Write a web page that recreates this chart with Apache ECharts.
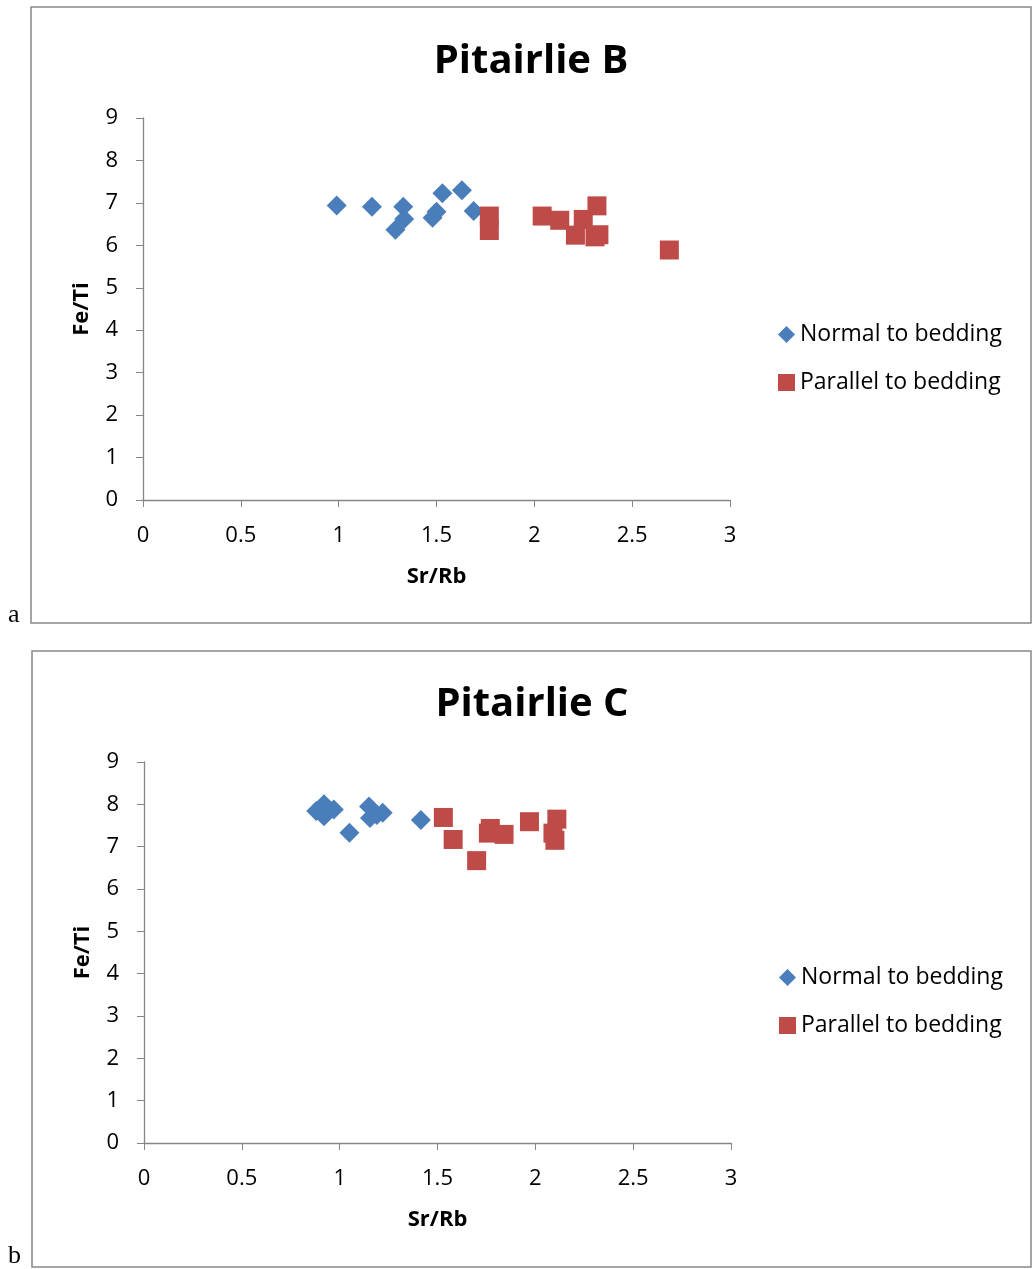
<!DOCTYPE html>
<html>
<head>
<meta charset="utf-8">
<script src="https://cdn.jsdelivr.net/npm/echarts@6/dist/echarts.min.js"></script>
<style>
  html, body { margin: 0; padding: 0; background: #fff; }
  #chart { width: 1033px; height: 1269px; }
</style>
</head>
<body>
<div id="chart"></div>
<script>
// panel a - Pitairlie B  [Sr/Rb, Fe/Ti]
const normalB = [
  [0.99, 6.94], [1.17, 6.91], [1.33, 6.91], [1.335, 6.62], [1.29, 6.37],
  [1.50, 6.79], [1.48, 6.65], [1.53, 7.23], [1.63, 7.30], [1.69, 6.81]
]
const parallelB = [
  [1.77, 6.69], [1.77, 6.35], [2.04, 6.69], [2.13, 6.59], [2.25, 6.61],
  [2.32, 6.93], [2.21, 6.24], [2.31, 6.20], [2.33, 6.25], [2.69, 5.89]
]
// panel b - Pitairlie C
const normalC = [
  [0.88, 7.84], [0.92, 8.00], [0.97, 7.88], [0.92, 7.72], [1.05, 7.33],
  [1.15, 7.95], [1.155, 7.68], [1.19, 7.75], [1.22, 7.80], [1.415, 7.63]
]
const parallelC = [
  [1.53, 7.69], [1.58, 7.17], [1.70, 6.67], [1.77, 7.43], [1.76, 7.32],
  [1.84, 7.29], [1.97, 7.59], [2.11, 7.65], [2.09, 7.32], [2.10, 7.15]
]
const titles = ['Pitairlie B', 'Pitairlie C']
const panelLetters = ['a', 'b']
const seriesNames = ['Normal to bedding', 'Parallel to bedding']

const blue = '#4a7ebb'
const red = '#be4b48'
const axisGray = '#868686'
const font = '"Open Sans", Lato, sans-serif'

const chart = echarts.init(document.getElementById('chart'))

function xAxisFor(gridIndex) {
  return {
    gridIndex: gridIndex,
    type: 'value',
    min: 0,
    max: 3,
    interval: 0.5,
    name: 'Sr/Rb',
    nameLocation: 'middle',
    nameGap: 66,
    nameTextStyle: { fontFamily: font, fontWeight: 'bold', fontSize: 22, color: '#000' },
    axisLine: { lineStyle: { color: axisGray, width: 1.3 } },
    axisTick: { show: true, length: 7, lineStyle: { color: axisGray } },
    axisLabel: { fontFamily: font, fontSize: 22, color: '#000', margin: 25 },
    splitLine: { show: false }
  }
}

function yAxisFor(gridIndex) {
  return {
    gridIndex: gridIndex,
    type: 'value',
    min: 0,
    max: 9,
    interval: 1,
    name: 'Fe/Ti',
    nameLocation: 'middle',
    nameGap: 50,
    nameRotate: 90,
    nameTextStyle: { fontFamily: font, fontWeight: 'bold', fontSize: 22, color: '#000' },
    axisLine: { show: true, lineStyle: { color: axisGray, width: 1.3 } },
    axisTick: { show: true, length: 7, lineStyle: { color: axisGray } },
    axisLabel: { fontFamily: font, fontSize: 22, color: '#000', margin: 25 },
    splitLine: { show: false }
  }
}

function scatter(name, data, idx, symbol, color, size) {
  return {
    name: name,
    type: 'scatter',
    xAxisIndex: idx,
    yAxisIndex: idx,
    data: data,
    symbol: symbol,
    symbolSize: size,
    itemStyle: { color: color, opacity: 1 },
    emphasis: { disabled: true }
  }
}

function legendAt(left, top) {
  return {
    data: [{ name: seriesNames[0], icon: 'diamond' }, { name: seriesNames[1], icon: 'rect' }],
    orient: 'vertical', left: left, top: top, itemGap: 25, itemWidth: 17, itemHeight: 17,
    textStyle: { fontFamily: font, fontSize: 23, color: '#000' }
  }
}

const option = {
  backgroundColor: '#fff',
  animation: false,
  title: [
    { text: titles[0], left: 526, top: 37, textAlign: 'center',
      textStyle: { fontFamily: font, fontWeight: 'bold', fontSize: 40, color: '#000' } },
    { text: titles[1], left: 527, top: 680, textAlign: 'center',
      textStyle: { fontFamily: font, fontWeight: 'bold', fontSize: 40, color: '#000' } }
  ],
  legend: [legendAt(773, 318), legendAt(774, 961)],
  grid: [
    { left: 143, top: 118, width: 587, height: 382 },
    { left: 144, top: 762, width: 587, height: 381 }
  ],
  xAxis: [xAxisFor(0), xAxisFor(1)],
  yAxis: [yAxisFor(0), yAxisFor(1)],
  series: [
    scatter(seriesNames[0], normalB, 0, 'diamond', blue, 20),
    scatter(seriesNames[1], parallelB, 0, 'rect', red, 19),
    scatter(seriesNames[0], normalC, 1, 'diamond', blue, 20),
    scatter(seriesNames[1], parallelC, 1, 'rect', red, 19)
  ],
  graphic: [
    { type: 'rect', shape: { x: 31, y: 7, width: 1000, height: 616 },
      style: { fill: 'none', stroke: '#888', lineWidth: 1.5 }, silent: true },
    { type: 'rect', shape: { x: 32, y: 651, width: 999, height: 616 },
      style: { fill: 'none', stroke: '#888', lineWidth: 1.5 }, silent: true },
    { type: 'text', x: 8, y: 602,
      style: { text: panelLetters[0], font: '26px "Liberation Serif", "DejaVu Serif", serif', fill: '#000' } },
    { type: 'text', x: 8, y: 1243,
      style: { text: panelLetters[1], font: '26px "Liberation Serif", "DejaVu Serif", serif', fill: '#000' } }
  ]
}

chart.setOption(option)
</script>
</body>
</html>
